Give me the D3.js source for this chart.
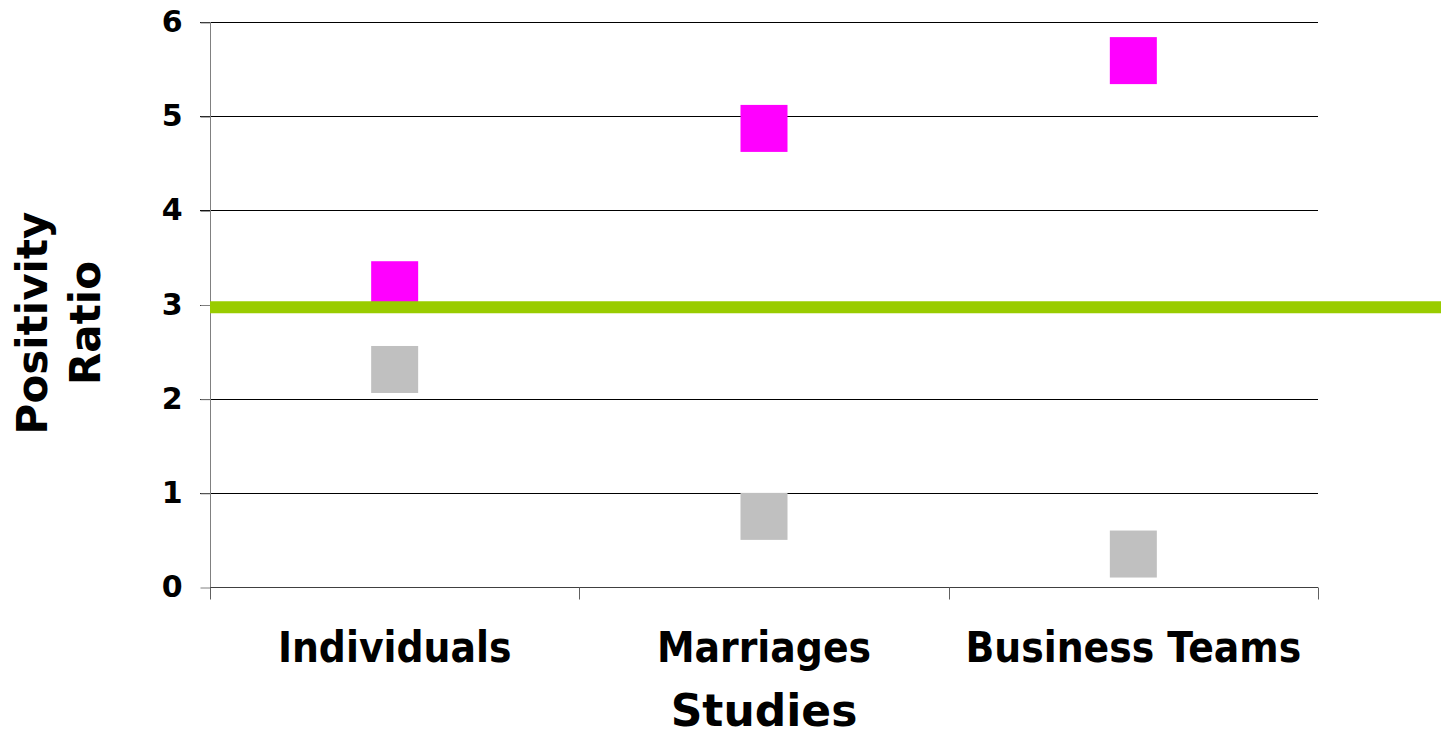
<!DOCTYPE html>
<html>
<head>
<meta charset="utf-8">
<script src="https://cdn.jsdelivr.net/npm/d3@7"></script>
<style>
  html, body { margin: 0; padding: 0; background: #fff; }
  svg { display: block; }
  text { font-family: "DejaVu Sans", Verdana, sans-serif; font-weight: bold; fill: #000; }
</style>
</head>
<body>
<svg id="chart" width="1441" height="731"></svg>
<script>
// Study groups along the x axis
const categories = ["Individuals", "Marriages", "Business Teams"];
// Positivity ratio of the flourishing groups (magenta squares)
const flourishing = [3.21, 4.87, 5.59];
// Positivity ratio of the languishing groups (grey squares)
const languishing = [2.31, 0.75, 0.35];
// Tipping-point ratio drawn as the green horizontal line
const tippingPoint = 2.97;
// Y-axis tick values
const yTicks = [0, 1, 2, 3, 4, 5, 6];

const svg = d3.select("#chart");
const W = 1441;
const plot = { left: 210, right: 1318, top: 22, bottom: 587 };

const x = d3.scaleBand().domain(categories).range([plot.left, plot.right]);
const y = d3.scaleLinear().domain([0, 6]).range([plot.bottom, plot.top]);

const crisp = v => Math.round(v) + 0.5;

// Horizontal gridlines
svg.append("g")
  .selectAll("line")
  .data(yTicks.filter(d => d > 0))
  .join("line")
  .attr("x1", plot.left - 10).attr("x2", plot.right)
  .attr("y1", d => crisp(y(d))).attr("y2", d => crisp(y(d)))
  .attr("stroke", "#000").attr("stroke-width", 1);

// Y axis (line + ticks + labels)
const yAxis = svg.append("g")
  .attr("transform", `translate(${crisp(plot.left)},0)`)
  .call(d3.axisLeft(y).tickValues(yTicks).tickSize(10).tickPadding(18).tickFormat(d3.format("d")));
yAxis.select(".domain").attr("stroke", "#808080").attr("d", `M0,${y(0)}V${y(6)}`);
yAxis.selectAll(".tick line").attr("stroke", "#808080").attr("transform", "translate(0,0.5)");
yAxis.selectAll(".tick text")
  .attr("font-size", 30).attr("font-family", "'DejaVu Sans', Verdana, sans-serif")
  .attr("font-weight", "bold").attr("fill", "#000");

// X axis: baseline, category separators and labels
const xAxis = svg.append("g").attr("transform", `translate(0,${crisp(plot.bottom)})`);
xAxis.append("line")
  .attr("x1", plot.left).attr("x2", plot.right)
  .attr("stroke", "#404040").attr("stroke-width", 1);
const separators = categories.map(c => x(c)).concat([x(categories[categories.length - 1]) + x.bandwidth()]);
xAxis.selectAll("line.sep")
  .data(separators)
  .join("line").attr("class", "sep")
  .attr("x1", d => crisp(d)).attr("x2", d => crisp(d))
  .attr("y1", 0).attr("y2", 12)
  .attr("stroke", "#606060").attr("stroke-width", 1);
xAxis.selectAll("text")
  .data(categories)
  .join("text")
  .attr("x", d => x(d) + x.bandwidth() / 2)
  .attr("y", 74)
  .attr("text-anchor", "middle")
  .attr("font-size", 42)
  .text(d => d)
  .each(function () {
    // slightly condensed bold face
    const w = this.getComputedTextLength();
    d3.select(this).attr("textLength", w * 0.9).attr("lengthAdjust", "spacingAndGlyphs");
  });

// Axis titles
svg.append("text")
  .attr("x", (plot.left + plot.right) / 2).attr("y", 726)
  .attr("text-anchor", "middle").attr("font-size", 44)
  .text("Studies");

const yTitle = svg.append("text")
  .attr("transform", "translate(47,323) rotate(-90)")
  .attr("text-anchor", "middle").attr("font-size", 42);
yTitle.append("tspan").attr("x", 0).attr("dy", 0).text("Positivity");
yTitle.append("tspan").attr("x", 0).attr("dy", 53).text("Ratio");

// Square markers
const size = 47;
const cx = d => x(d) + x.bandwidth() / 2;
svg.append("g")
  .selectAll("rect")
  .data(categories.map((c, i) => ({ c, v: languishing[i] })))
  .join("rect")
  .attr("x", d => cx(d.c) - size / 2).attr("y", d => y(d.v) - size / 2)
  .attr("width", size).attr("height", size)
  .attr("fill", "#C0C0C0");
svg.append("g")
  .selectAll("rect")
  .data(categories.map((c, i) => ({ c, v: flourishing[i] })))
  .join("rect")
  .attr("x", d => cx(d.c) - size / 2).attr("y", d => y(d.v) - size / 2)
  .attr("width", size).attr("height", size)
  .attr("fill", "#FF00FF");

// Tipping-point line running past the plot to the right edge
svg.append("line")
  .attr("x1", plot.left).attr("x2", W)
  .attr("y1", y(tippingPoint)).attr("y2", y(tippingPoint))
  .attr("stroke", "#99CC00").attr("stroke-width", 12);
</script>
</body>
</html>
